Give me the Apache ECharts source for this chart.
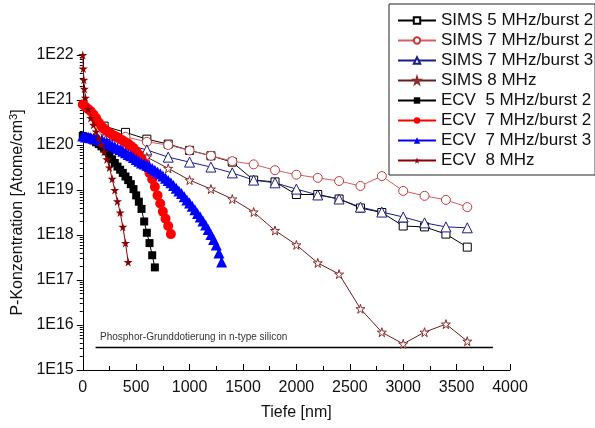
<!DOCTYPE html>
<html>
<head>
<meta charset="utf-8">
<script src="https://cdn.jsdelivr.net/npm/echarts@6/dist/echarts.min.js"></script>
<style>
  html, body { margin: 0; padding: 0; background: #fff; }
  #myChart { width: 595px; height: 428px; }
</style>
</head>
<body>
<div id="myChart"></div>
<script>
// depth in nm, concentrations stored as decades (log10 of atoms/cm3)
const simsDepth = [200, 400, 600, 800, 1000, 1200, 1400, 1600, 1800, 2000, 2200, 2400, 2600, 2800, 3000, 3200, 3400, 3600];
const sims5b2 = [20.42, 20.28, 20.13, 20.02, 19.88, 19.76, 19.62, 19.22, 19.18, 18.90, 18.90, 18.80, 18.60, 18.50, 18.20, 18.18, 18.02, 17.73];
const sims7b2 = [20.30, 20.18, 20.07, 20.00, 19.88, 19.76, 19.64, 19.57, 19.44, 19.34, 19.27, 19.20, 19.09, 19.31, 18.98, 18.87, 18.78, 18.62];
const sims7b3 = [20.15, 20.02, 19.89, 19.73, 19.62, 19.51, 19.38, 19.22, 19.16, 19.02, 18.89, 18.80, 18.62, 18.51, 18.40, 18.27, 18.18, 18.16];
const sims8 = [20.30, 19.98, 19.73, 19.48, 19.22, 19.02, 18.80, 18.51, 18.10, 17.78, 17.38, 17.13, 16.36, 15.84, 15.58, 15.84, 16.02, 15.64];

const ecv5Depth = [0, 25, 50, 75, 100, 125, 150, 175, 200, 225, 250, 275, 300, 325, 350, 375, 400, 425, 450, 475, 500, 525, 550, 575, 600, 625, 650, 675];
const ecv5b2 = [20.20, 20.18, 20.16, 20.13, 20.10, 20.06, 20.02, 19.97, 19.92, 19.86, 19.76, 19.68, 19.60, 19.52, 19.45, 19.38, 19.30, 19.22, 19.13, 19.02, 18.88, 18.74, 18.58, 18.30, 18.05, 17.82, 17.55, 17.28];

const ecv7b2Depth = [0, 25, 50, 75, 100, 125, 150, 175, 200, 225, 250, 275, 300, 325, 350, 375, 400, 425, 450, 475, 500, 525, 550, 575, 600, 625, 650, 675, 700, 725, 750, 775, 800, 825];
const ecv7b2 = [20.90, 20.85, 20.80, 20.75, 20.68, 20.60, 20.50, 20.42, 20.36, 20.31, 20.27, 20.23, 20.20, 20.17, 20.13, 20.10, 20.06, 20.03, 19.98, 19.93, 19.86, 19.79, 19.70, 19.60, 19.50, 19.38, 19.24, 19.07, 18.88, 18.70, 18.52, 18.36, 18.20, 18.02];

const ecv7b3Depth = [0, 25, 50, 75, 100, 125, 150, 175, 200, 225, 250, 275, 300, 325, 350, 375, 400, 425, 450, 475, 500, 525, 550, 575, 600, 625, 650, 675, 700, 725, 750, 775, 800, 825, 850, 875, 900, 925, 950, 975, 1000, 1025, 1050, 1075, 1100, 1125, 1150, 1175, 1200, 1225, 1250, 1275, 1300];
const ecv7b3 = [20.20, 20.18, 20.17, 20.16, 20.15, 20.14, 20.12, 20.10, 20.08, 20.05, 20.02, 19.99, 19.96, 19.93, 19.90, 19.86, 19.83, 19.79, 19.76, 19.72, 19.68, 19.64, 19.60, 19.58, 19.55, 19.52, 19.48, 19.44, 19.40, 19.36, 19.31, 19.26, 19.21, 19.16, 19.10, 19.04, 18.98, 18.92, 18.85, 18.78, 18.71, 18.64, 18.56, 18.48, 18.40, 18.31, 18.22, 18.12, 18.01, 17.90, 17.78, 17.60, 17.40];

const ecv8Depth = [0, 5, 10, 15, 25, 50, 75, 100, 125, 150, 175, 200, 225, 250, 275, 300, 325, 350, 375, 400, 425];
const ecv8 = [22.0, 21.7, 21.45, 21.25, 21.05, 20.8, 20.6, 20.45, 20.3, 20.15, 20.0, 19.85, 19.68, 19.5, 19.25, 19.0, 18.75, 18.5, 18.18, 17.82, 17.4];

// background doping line
const baseDepth = [120, 3840];
const baseLevel = 15.5;

const star = "path://M50,0 L61,35 L98,35 L68,57 L79,91 L50,70 L21,91 L32,57 L2,35 L39,35 Z";

function pts(xs, ys) {
  return xs.map((x, i) => [x, Math.pow(10, ys[i])]);
}

function sims(name, data, symbol, size, line, edge) {
  return {
    name: name, type: "line", data: data, symbol: symbol, symbolSize: size,
    lineStyle: { color: line, width: 1 },
    itemStyle: { color: "#fff", borderColor: edge, borderWidth: 1 },
    z: 2
  };
}
function ecv(name, data, symbol, size, color) {
  return {
    name: name, type: "line", data: data, symbol: symbol, symbolSize: size,
    lineStyle: { color: color, width: 1 },
    itemStyle: { color: color, borderColor: color, borderWidth: 0 },
    z: 3
  };
}

const myChart = echarts.init(document.getElementById("myChart"), null, { renderer: "canvas" });
const font = "Arial, 'Liberation Sans', sans-serif";

myChart.setOption({
  animation: false,
  textStyle: { fontFamily: font },
  grid: { left: 82, right: 85, top: 55, bottom: 58 },
  legend: {
    orient: "vertical",
    left: 389, top: 4,
    padding: [8, 2, 6, 8],
    borderColor: "#222", borderWidth: 1,
    backgroundColor: "#fff",
    itemWidth: 38, itemHeight: 8, itemGap: 3,
    textStyle: { fontSize: 17, color: "#111", fontFamily: font, lineHeight: 17 },
    data: ["SIMS 5 MHz/burst 2", "SIMS 7 MHz/burst 2", "SIMS 7 MHz/burst 3", "SIMS 8 MHz",
      "ECV  5 MHz/burst 2", "ECV  7 MHz/burst 2", "ECV  7 MHz/burst 3", "ECV  8 MHz"]
  },
  xAxis: {
    type: "value", min: 0, max: 4000, interval: 500,
    name: "Tiefe [nm]", nameLocation: "middle", nameGap: 35,
    nameTextStyle: { fontSize: 16, color: "#111" },
    axisLine: { lineStyle: { color: "#000", width: 1 } },
    axisTick: { inside: true, length: 6, lineStyle: { color: "#000" } },
    minorTick: { show: true, splitNumber: 2, length: 4, lineStyle: { color: "#000" } },
    axisLabel: { fontSize: 16, color: "#111", margin: 10, formatter: v => String(v) },
    splitLine: { show: false }
  },
  yAxis: {
    type: "log", logBase: 10, min: 1e15, max: 1e22,
    name: "P-Konzentration [Atome/cm{sup|3}]", nameLocation: "middle", nameGap: 55,
    nameTextStyle: { fontSize: 16, color: "#111", rich: { sup: { fontSize: 11, verticalAlign: "top", padding: [0, 0, 8, 0] } } },
    axisLine: { show: true, lineStyle: { color: "#000", width: 1 } },
    axisTick: { show: true, length: 6, lineStyle: { color: "#000" } },
    minorTick: { show: true, splitNumber: 9, length: 3, lineStyle: { color: "#000" } },
    axisLabel: {
      fontSize: 16, color: "#111", margin: 9,
      formatter: v => "1E" + Math.round(Math.log10(v))
    },
    splitLine: { show: false }
  },
  graphic: [{
    type: "text", left: 100, top: 332,
    style: { text: "Phosphor-Grunddotierung in n-type silicon", font: "10px " + font, fill: "#333" }
  }],
  series: [
    sims("SIMS 5 MHz/burst 2", pts(simsDepth, sims5b2), "rect", 8, "#000", "#000"),
    sims("SIMS 7 MHz/burst 2", pts(simsDepth, sims7b2), "circle", 9, "#d85c5c", "#c03a3a"),
    sims("SIMS 7 MHz/burst 3", pts(simsDepth, sims7b3), "triangle", 10, "#1c1c8a", "#1c1c8a"),
    sims("SIMS 8 MHz", pts(simsDepth, sims8), star, 9, "#6e1d1d", "#8b2a2a"),
    ecv("ECV  5 MHz/burst 2", pts(ecv5Depth, ecv5b2), "rect", 8, "#000"),
    ecv("ECV  7 MHz/burst 2", pts(ecv7b2Depth, ecv7b2), "circle", 10, "#ff0000"),
    ecv("ECV  7 MHz/burst 3", pts(ecv7b3Depth, ecv7b3), "triangle", 11, "#0000ff"),
    ecv("ECV  8 MHz", pts(ecv8Depth, ecv8), star, 9, "#8b0000"),
    {
      name: "base", type: "line", data: pts(baseDepth, [baseLevel, baseLevel]),
      symbol: "none", silent: true,
      lineStyle: { color: "#000", width: 1.5 }, z: 1
    }
  ]
});
</script>
</body>
</html>
